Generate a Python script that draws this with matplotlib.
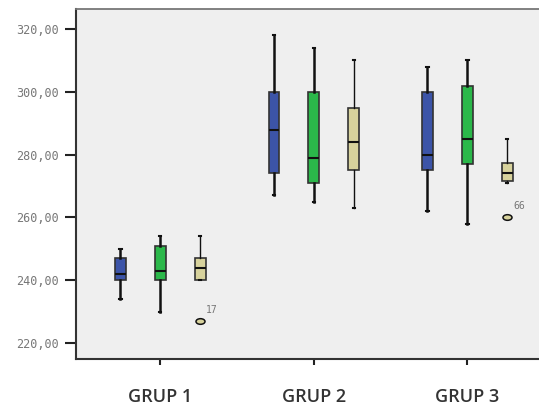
import matplotlib
matplotlib.use('Agg')
import matplotlib.pyplot as plt
from matplotlib.path import Path
from matplotlib.transforms import Affine2D

groups = ['GRUP 1', 'GRUP 2', 'GRUP 3']
colors = ['#3C54A8', '#2BB84A', '#D7D29C']
# per group: three boxes (blue, green, tan) -> low whisker, q1, median, q3, high whisker
whislo = [[234, 230, 240], [267, 265, 263], [262, 258, 271]]
q1 = [[240, 240, 240], [274, 271, 275], [275, 277, 271.5]]
med = [[242, 243, 244], [288, 279, 284], [280, 285, 274]]
q3 = [[247, 251, 247], [300, 300, 295], [300, 302, 277.5]]
whishi = [[250, 254, 254], [318, 314, 310], [308, 310, 285]]
# outliers: (group, box, value, label)
outliers = [(0, 2, 227, '17'), (2, 2, 260, '66')]
yticks = [220, 240, 260, 280, 300, 320]

fig = plt.figure(figsize=(5.39, 4.08), dpi=100)
ax = fig.add_axes([0.141, 0.120, 0.862, 0.858])
ax.set_facecolor('#EFEFEF')

offsets = [-0.26, 0.0, 0.26]
ellipse = Path.unit_circle().transformed(Affine2D().scale(1.6, 1.0))

for g in range(3):
    for b in range(3):
        stats = [dict(whislo=whislo[g][b], q1=q1[g][b], med=med[g][b],
                      q3=q3[g][b], whishi=whishi[g][b], fliers=[])]
        lw = 1.0 if b == 2 else 1.8
        ax.bxp(stats, positions=[g + offsets[b]], widths=0.07,
               patch_artist=True, showfliers=False, capwidths=0.015,
               boxprops=dict(facecolor=colors[b], edgecolor='#333333', linewidth=1.2),
               medianprops=dict(color='#111111', linewidth=1.5),
               whiskerprops=dict(color='#111111', linewidth=lw),
               capprops=dict(color='#111111', linewidth=1.5))

for g, b, v, lab in outliers:
    x = g + offsets[b]
    ax.plot([x], [v], marker=ellipse, markersize=6.5, markerfacecolor=colors[b],
            markeredgecolor='#111111', markeredgewidth=1.1, linestyle='none')
    ax.text(x + 0.04, v + 2, lab, fontsize=7, color='#777777',
            family='DejaVu Sans Mono', ha='left', va='bottom')

ax.set_xlim(-0.549, 2.477)
ax.set_ylim(214.9, 326.4)
ax.set_xticks([0, 1, 2])
ax.set_xticklabels(groups, fontsize=13, color='#333333', family='Open Sans', fontweight='semibold')
ax.set_yticks(yticks)
ax.set_yticklabels(['%d,00' % t for t in yticks], fontsize=8.5, color='#777777', family='DejaVu Sans Mono')
ax.tick_params(axis='x', length=4, width=1.5, color='#222222', pad=17)
ax.tick_params(axis='y', length=8, width=1.5, color='#222222', pad=4)

for s in ['left', 'bottom']:
    ax.spines[s].set_color('#333333')
    ax.spines[s].set_linewidth(1.5)
ax.spines['top'].set_color('#777777')
ax.spines['top'].set_linewidth(1.3)
ax.spines['right'].set_visible(False)

plt.savefig('out.png', dpi=100)
